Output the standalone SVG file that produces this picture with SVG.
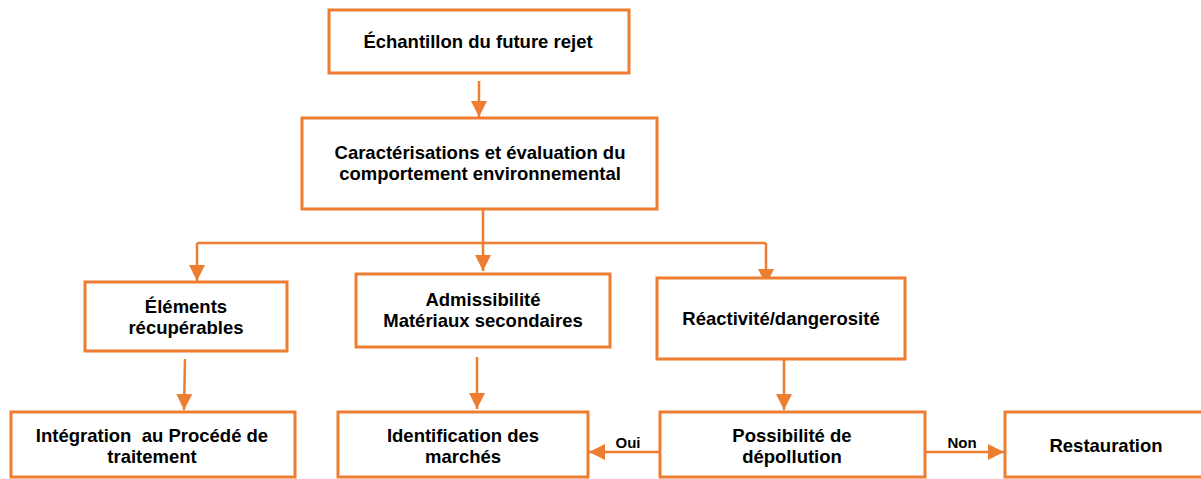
<svg xmlns="http://www.w3.org/2000/svg" width="1201" height="479" viewBox="0 0 1201 479">
<style>
.box{fill:#fff;stroke:#ED7D31;stroke-width:3}
.t{font-family:"Liberation Sans",Arial,sans-serif;font-weight:bold;font-size:18.5px;fill:#000;text-anchor:middle}
.lbl{font-family:"Liberation Sans",Arial,sans-serif;font-weight:bold;font-size:15px;fill:#000;text-anchor:middle}
.c{fill:none;stroke:#ED7D31;stroke-width:2.5}
</style>
<defs>
<marker id="ah" markerUnits="userSpaceOnUse" markerWidth="16" markerHeight="16" refX="15" refY="7.5" orient="auto" viewBox="0 0 15 15">
<path d="M0,0 L15,7.5 L0,15 z" fill="#ED7D31"/>
</marker>
</defs>
<rect width="1201" height="479" fill="#fff"/>
<g id="connectors">
<line class="c" x1="479" y1="81" x2="479" y2="117" marker-end="url(#ah)"/>
<polyline class="c" points="483,209 483,243"/>
<polyline class="c" points="197,243 766,243"/>
<line class="c" x1="197" y1="243" x2="197" y2="281" marker-end="url(#ah)"/>
<line class="c" x1="483" y1="243" x2="483" y2="271" marker-end="url(#ah)"/>
<line class="c" x1="766" y1="243" x2="766" y2="285" marker-end="url(#ah)"/>
<line class="c" x1="185" y1="359" x2="184" y2="410" marker-end="url(#ah)"/>
<line class="c" x1="477" y1="357" x2="477" y2="409" marker-end="url(#ah)"/>
<line class="c" x1="784" y1="359" x2="784" y2="410" marker-end="url(#ah)"/>
<line class="c" x1="660" y1="452" x2="589" y2="452" marker-end="url(#ah)"/>
<line class="c" x1="925" y1="452" x2="1004" y2="452" marker-end="url(#ah)"/>
<text class="lbl" x="628" y="448">Oui</text>
<text class="lbl" x="962" y="448">Non</text>
</g>
<g id="n1">
<rect class="box" x="329" y="10" width="300" height="63"/>
<text class="t" x="478" y="48">Échantillon du future rejet</text>
</g>
<g id="n2">
<rect class="box" x="302" y="118" width="355" height="91"/>
<text class="t" x="480" y="159">Caractérisations et évaluation du</text>
<text class="t" x="480" y="180">comportement environnemental</text>
</g>
<g id="n3">
<rect class="box" x="85" y="282" width="202" height="69"/>
<text class="t" x="186" y="313">Éléments</text>
<text class="t" x="186" y="334">récupérables</text>
</g>
<g id="n4">
<rect class="box" x="356" y="274" width="254" height="73"/>
<text class="t" x="483" y="306">Admissibilité</text>
<text class="t" x="483" y="327">Matériaux secondaires</text>
</g>
<g id="n5">
<rect class="box" x="657" y="278" width="248" height="81"/>
<text class="t" x="781" y="325">Réactivité/dangerosité</text>
</g>
<g id="n6">
<rect class="box" x="11" y="412" width="284" height="65"/>
<text class="t" x="152" y="442" xml:space="preserve">Intégration  au Procédé de</text>
<text class="t" x="152" y="463">traitement</text>
</g>
<g id="n7">
<rect class="box" x="338" y="412" width="250" height="65"/>
<text class="t" x="463" y="442">Identification des</text>
<text class="t" x="463" y="463">marchés</text>
</g>
<g id="n8">
<rect class="box" x="660" y="412" width="265" height="65"/>
<text class="t" x="792" y="442">Possibilité de</text>
<text class="t" x="792" y="463">dépollution</text>
</g>
<g id="n9">
<rect class="box" x="1005" y="412" width="200" height="65"/>
<text class="t" x="1106" y="452">Restauration</text>
</g>
</svg>
